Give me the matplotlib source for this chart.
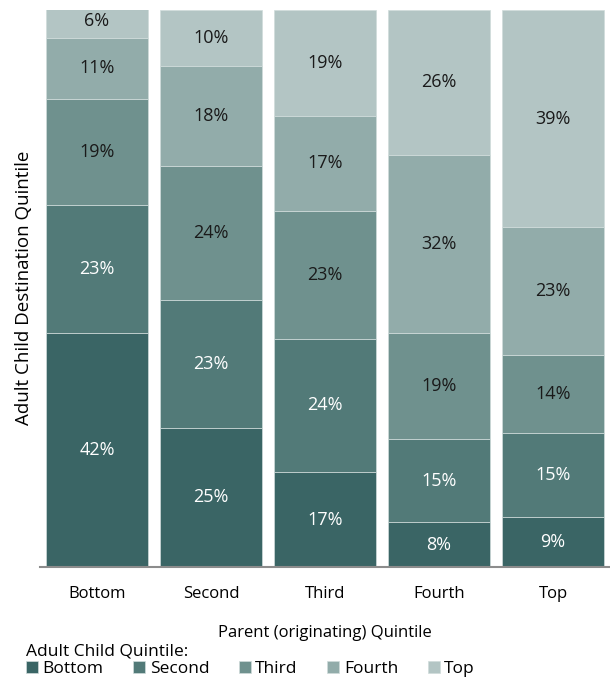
import matplotlib.pyplot as plt
import numpy as np

plt.rcParams["font.family"] = ["Open Sans", "DejaVu Sans"]

parents = ["Bottom", "Second", "Third", "Fourth", "Top"]
child_quintiles = ["Bottom", "Second", "Third", "Fourth", "Top"]
# share of adult children in each destination quintile, per parent quintile
bottom = [42, 25, 17, 8, 9]
second = [23, 23, 24, 15, 15]
third = [19, 24, 23, 19, 14]
fourth = [11, 18, 17, 32, 23]
top = [6, 10, 19, 26, 39]

colors = ["#3a6565", "#527a78", "#6f918e", "#92acaa", "#b3c5c4"]
text_colors = ["white", "white", "#1a1a1a", "#1a1a1a", "#1a1a1a"]

fig = plt.figure(figsize=(6.1, 6.8), dpi=100)
ax = fig.add_axes([40 / 610, 1 - 567 / 680, 570 / 610, 557 / 680])

x = np.arange(len(parents))
base = np.zeros(len(parents))
handles = []
for series, name, c, tc in zip([bottom, second, third, fourth, top],
                               child_quintiles, colors, text_colors):
    vals = np.array(series, dtype=float)
    bars = ax.bar(x, vals, bottom=base, width=0.89, color=c,
                  edgecolor="#d0dcdb", linewidth=0.5, label=name)
    handles.append(bars)
    for xi, b, v in zip(x, base, vals):
        ax.text(xi, b + v / 2, f"{int(v)}%", ha="center", va="center",
                color=tc, fontsize=13)
    base += vals

ax.set_xlim(-0.5, 4.5)
ax.set_ylim(0, 100)
ax.set_xticks(x)
ax.set_xticklabels(parents, fontsize=12)
ax.tick_params(axis="x", length=0, pad=14)
ax.set_yticks([])
for s in ["top", "right", "left"]:
    ax.spines[s].set_visible(False)
ax.spines["bottom"].set_color("#8c8c8c")
ax.spines["bottom"].set_linewidth(1.5)

ax.set_xlabel("Parent (originating) Quintile", fontsize=12, labelpad=16)
fig.text(24 / 610, 1 - 288 / 680, "Adult Child Destination Quintile",
         rotation=90, ha="center", va="center", fontsize=13.5)

leg = fig.legend(handles=handles, labels=child_quintiles, ncol=5,
                 loc="lower left", bbox_to_anchor=(14 / 610, -0.014),
                 frameon=False, fontsize=12.5, title="Adult Child Quintile:",
                 title_fontsize=12.5, alignment="left",
                 handlelength=0.7, handleheight=0.7, handletextpad=0.25,
                 columnspacing=1.7, borderpad=0.2, labelspacing=0.1)

fig.savefig("out.png", dpi=100)
